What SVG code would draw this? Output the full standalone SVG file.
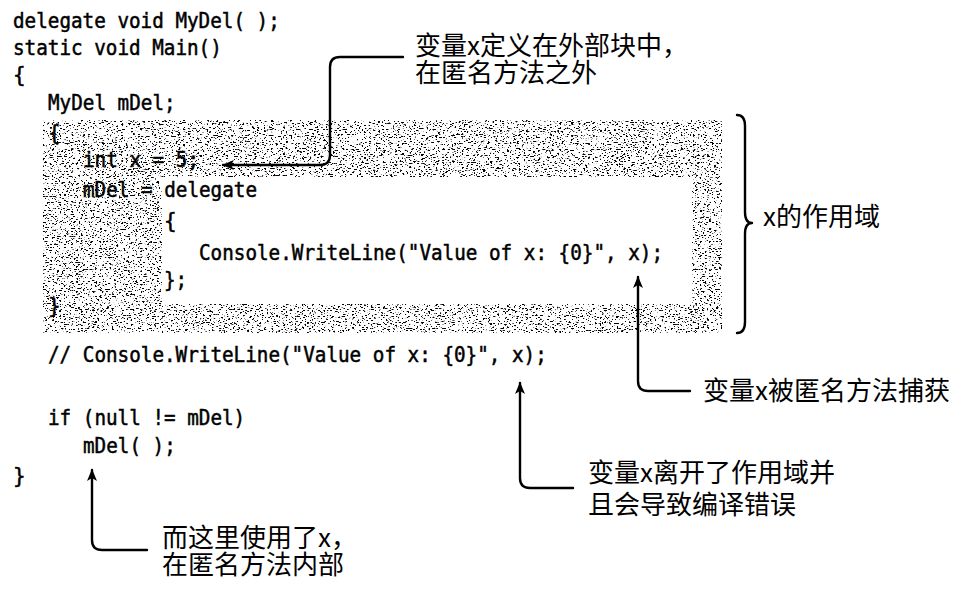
<svg xmlns="http://www.w3.org/2000/svg" width="967" height="594" viewBox="0 0 967 594">
<style>
.code{font-family:"DejaVu Sans Mono","Liberation Mono",monospace;font-size:21px;fill:#000;stroke:#000;stroke-width:0.5}
.lbl{font-family:"Noto Sans CJK SC","Noto Sans",sans-serif;font-size:26px;fill:#000}
.conn{fill:none;stroke:#000;stroke-width:2.4;stroke-linejoin:round;stroke-linecap:round}
</style>
<defs>
<filter id="speckle" x="0" y="0" width="1" height="1" filterUnits="objectBoundingBox">
<feTurbulence type="fractalNoise" baseFrequency="0.42 0.85" numOctaves="2" seed="7" result="n"/>
<feColorMatrix in="n" type="matrix" values="0 0 0 0 0  0 0 0 0 0  0 0 0 0 0  16 0 0 0 -9.5" result="dots"/>
<feComposite in="dots" in2="SourceAlpha" operator="in"/>
</filter>
<marker id="ah" viewBox="0 0 12 10" refX="11" refY="5" markerWidth="12" markerHeight="10" markerUnits="userSpaceOnUse" orient="auto">
<path d="M0,0 L12,5 L0,10 L3,5 Z" fill="#000"/>
</marker>
</defs>
<rect width="967" height="594" fill="#fff"/>
<g id="scope-frame">
<path d="M43,120 H722 V333 H43 Z M162,177 V304 H692 V177 Z" fill="#000" fill-rule="evenodd" filter="url(#speckle)"/>
</g>
<g id="code">
<text class="code" x="13" y="28" textLength="266.8" lengthAdjust="spacingAndGlyphs">delegate void MyDel( );</text>
<text class="code" x="13" y="55" textLength="208.8" lengthAdjust="spacingAndGlyphs">static void Main()</text>
<text class="code" x="13" y="82">{</text>
<text class="code" x="48" y="110" textLength="127.6" lengthAdjust="spacingAndGlyphs">MyDel mDel;</text>
<text class="code" x="48" y="140">{</text>
<text class="code" x="83" y="167" textLength="116" lengthAdjust="spacingAndGlyphs">int x = 5;</text>
<text class="code" x="83" y="197" textLength="174" lengthAdjust="spacingAndGlyphs">mDel = delegate</text>
<text class="code" x="164" y="228">{</text>
<text class="code" x="199" y="260" textLength="464" lengthAdjust="spacingAndGlyphs">Console.WriteLine("Value of x: {0}", x);</text>
<text class="code" x="164" y="287" textLength="23.2" lengthAdjust="spacingAndGlyphs">};</text>
<text class="code" x="48" y="313">}</text>
<text class="code" x="48" y="362" textLength="498.8" lengthAdjust="spacingAndGlyphs">// Console.WriteLine("Value of x: {0}", x);</text>
<text class="code" x="48" y="425" textLength="197.2" lengthAdjust="spacingAndGlyphs">if (null != mDel)</text>
<text class="code" x="83" y="453" textLength="92.8" lengthAdjust="spacingAndGlyphs">mDel( );</text>
<text class="code" x="13" y="483">}</text>
</g>
<g id="brace">
<path class="conn" d="M737,115 Q745,115 745,126 V212 Q745,223 752,223 Q745,223 745,234 V322 Q745,333 737,333"/>
</g>
<g id="label-scope">
<text class="lbl" x="763" y="226">x的作用域</text>
</g>
<g id="label-defined">
<text class="lbl" x="415" y="55">变量x定义在外部块中，<tspan x="415" dy="27">在匿名方法之外</tspan></text>
</g>
<g id="label-captured">
<text class="lbl" x="703" y="400">变量x被匿名方法捕获</text>
</g>
<g id="label-outofscope">
<text class="lbl" x="588" y="482">变量x离开了作用域并<tspan x="588" dy="32">且会导致编译错误</tspan></text>
</g>
<g id="label-used">
<text class="lbl" x="162" y="547">而这里使用了x，<tspan x="162" dy="27">在匿名方法内部</tspan></text>
</g>
<g id="connectors">
<path class="conn" marker-end="url(#ah)" d="M403,57 H340 Q330,57 330,67 V155 Q330,165 320,165 H223"/>
<path class="conn" marker-end="url(#ah)" d="M690,391 H648 Q638,391 638,381 V277"/>
<path class="conn" marker-end="url(#ah)" d="M573,488 H530 Q520,488 520,478 V383"/>
<path class="conn" marker-end="url(#ah)" d="M147,550 H102 Q92,550 92,540 V470"/>
</g>
</svg>
